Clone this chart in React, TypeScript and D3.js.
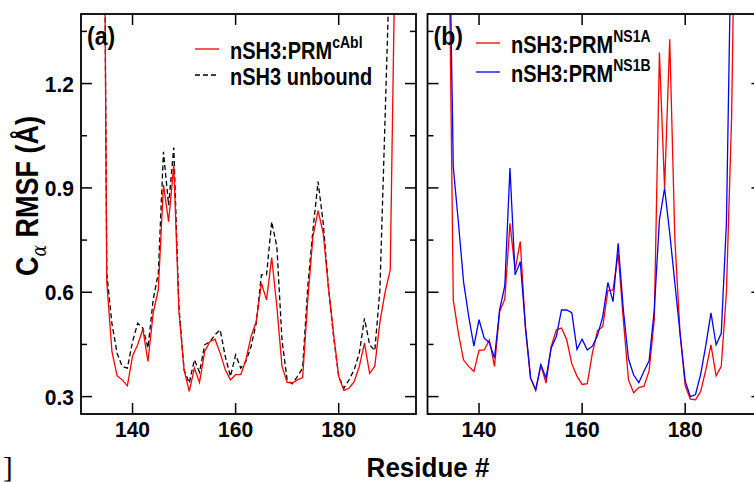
import React from "react";
import * as d3 from "d3";

// ---------- data ----------
const residuesA = [134,135,136,137,138,139,140,141,142,143,144,145,146,147,148,149,150,151,152,153,154,155,156,157,158,159,160,161,162,163,164,165,166,167,168,169,170,171,172,173,174,175,176,177,178,179,180,181,182,183,184,185,186,187,188,189,190,191];
const cAblBound = [3.0,0.63,0.43,0.36,0.348,0.331,0.417,0.449,0.494,0.401,0.54,0.607,0.909,0.803,0.965,0.545,0.377,0.315,0.382,0.341,0.43,0.458,0.465,0.425,0.377,0.348,0.363,0.363,0.406,0.473,0.516,0.626,0.578,0.70,0.559,0.387,0.341,0.339,0.348,0.355,0.578,0.76,0.835,0.77,0.616,0.482,0.358,0.318,0.324,0.343,0.387,0.454,0.367,0.387,0.515,0.6,0.664,1.65];
const unbound = [3.0,0.655,0.51,0.425,0.387,0.382,0.458,0.511,0.497,0.44,0.578,0.655,1.004,0.85,1.016,0.559,0.377,0.339,0.406,0.37,0.449,0.458,0.478,0.492,0.415,0.358,0.42,0.382,0.401,0.444,0.511,0.65,0.65,0.803,0.731,0.463,0.348,0.337,0.358,0.382,0.616,0.779,0.918,0.799,0.616,0.473,0.358,0.324,0.348,0.377,0.425,0.525,0.449,0.432,0.607,1.1,1.6,2.2];

const residuesB = [134,135,136,137,138,139,140,141,142,143,144,145,146,147,148,149,150,151,152,153,154,155,156,157,158,159,160,161,162,163,164,165,166,167,168,169,170,171,172,173,174,175,176,177,178,179,180,181,182,183,184,185,186,187,188,189,190];
const ns1aBound = [1.85,0.578,0.482,0.405,0.387,0.372,0.433,0.434,0.463,0.387,0.545,0.58,0.798,0.664,0.746,0.497,0.353,0.318,0.391,0.339,0.444,0.492,0.497,0.464,0.394,0.359,0.335,0.337,0.426,0.49,0.501,0.605,0.607,0.71,0.521,0.348,0.311,0.326,0.33,0.374,0.521,1.289,0.9,1.327,0.751,0.482,0.332,0.293,0.291,0.315,0.377,0.449,0.36,0.387,0.6,1.1,2.1];
const ns1bBound = [1.9,0.961,0.80,0.63,0.53,0.445,0.521,0.468,0.455,0.411,0.55,0.618,0.957,0.65,0.688,0.502,0.353,0.32,0.392,0.353,0.44,0.473,0.549,0.549,0.541,0.436,0.465,0.434,0.445,0.476,0.53,0.628,0.573,0.741,0.549,0.408,0.362,0.34,0.373,0.403,0.549,0.808,0.899,0.77,0.626,0.482,0.345,0.30,0.306,0.364,0.447,0.541,0.449,0.482,0.8,1.7,2.3];

const xTicks = [140, 160, 180];
const yMajor = [0.3, 0.6, 0.9, 1.2];
const yMinor = [0.45, 0.75, 1.05, 1.35];
const yLabels = ["0.3", "0.6", "0.9", "1.2"];

// ---------- layout ----------
const W = 754, H = 482;
const TOP = 14, BOTTOM = 414, PW = 335;
const LEFT_A = 81, LEFT_B = 427.5;
const FONT = "'Liberation Sans', Arial, Helvetica, sans-serif";

const yScale = d3.scaleLinear().domain([0.25, 1.4]).range([BOTTOM, TOP]);

type Series = { x: number[]; y: number[]; color: string; dash?: string };

function Panel({ left, id, series, showYLabels, tag }: { left: number; id: string; series: Series[]; showYLabels: boolean; tag: string }) {
  const x = d3.scaleLinear().domain([130, 195]).range([left, left + PW]);
  const right = left + PW;
  const majorLen = 11, minorLen = 6;
  return (
    <g>
      <defs>
        <clipPath id={id}>
          <rect x={left} y={TOP} width={PW} height={BOTTOM - TOP} />
        </clipPath>
      </defs>
      <g clipPath={`url(#${id})`}>
        {series.map((s, i) => {
          const line = d3.line<number>().x((_, j) => x(s.x[j])).y((d) => yScale(d));
          return (
            <path key={i} d={line(s.y) || ""} fill="none" stroke={s.color} strokeWidth={1.3} strokeDasharray={s.dash} strokeLinejoin="miter" />
          );
        })}
      </g>
      {xTicks.map((t) => (
        <g key={"xt" + t}>
          <line x1={x(t)} x2={x(t)} y1={BOTTOM} y2={BOTTOM - majorLen} stroke="#000" strokeWidth={1.5} />
          <line x1={x(t)} x2={x(t)} y1={TOP} y2={TOP + majorLen} stroke="#000" strokeWidth={1.5} />
          <text transform={`translate(${x(t)},437) scale(1,1.05)`} textAnchor="middle" fontFamily={FONT} fontWeight="bold" fontSize={21}>{t}</text>
        </g>
      ))}
      {yMajor.map((v, i) => (
        <g key={"ym" + v}>
          <line x1={left} x2={left + majorLen} y1={yScale(v)} y2={yScale(v)} stroke="#000" strokeWidth={1.5} />
          <line x1={right} x2={right - majorLen} y1={yScale(v)} y2={yScale(v)} stroke="#000" strokeWidth={1.5} />
          {showYLabels && (
            <text transform={`translate(${left - 7},${yScale(v) + 8}) scale(1,1.05)`} textAnchor="end" fontFamily={FONT} fontWeight="bold" fontSize={21}>{yLabels[i]}</text>
          )}
        </g>
      ))}
      {yMinor.map((v) => (
        <g key={"yn" + v}>
          <line x1={left} x2={left + minorLen} y1={yScale(v)} y2={yScale(v)} stroke="#000" strokeWidth={1.5} />
          <line x1={right} x2={right - minorLen} y1={yScale(v)} y2={yScale(v)} stroke="#000" strokeWidth={1.5} />
        </g>
      ))}
      <rect x={left} y={TOP} width={PW} height={BOTTOM - TOP} fill="none" stroke="#000" strokeWidth={1.8} />
      <text transform={`translate(${left + 6},45) scale(1,1.1)`} fontFamily={FONT} fontWeight="bold" fontSize={23}>{tag}</text>
    </g>
  );
}

function LegendEntry({ x, y, color, dash, label, sup }: { x: number; y: number; color: string; dash?: string; label: string; sup?: string }) {
  return (
    <g>
      <line x1={x} x2={x + 24} y1={y} y2={y} stroke={color} strokeWidth={1.3} strokeDasharray={dash} />
      <text transform={`translate(${x + 35},${y + 10}) scale(1,1.15)`} fontFamily={FONT} fontWeight="bold" fontSize={20}>
        {label}
        {sup && <tspan dy={-10} fontSize={14}>{sup}</tspan>}
      </text>
    </g>
  );
}

export default function App() {
  const seriesA: Series[] = [
    { x: residuesA, y: unbound, color: "#000", dash: "5,3" },
    { x: residuesA, y: cAblBound, color: "#ff0000" },
  ];
  const seriesB: Series[] = [
    { x: residuesB, y: ns1aBound, color: "#ff0000" },
    { x: residuesB, y: ns1bBound, color: "#0000ff" },
  ];
  return (
    <svg width={W} height={H} viewBox={`0 0 ${W} ${H}`} style={{ position: "absolute", left: 0, top: 0, background: "#fff" }}>
      <rect x={0} y={0} width={W} height={H} fill="#fff" />
      <Panel left={LEFT_A} id="clipA" series={seriesA} showYLabels={true} tag="(a)" />
      <Panel left={LEFT_B} id="clipB" series={seriesB} showYLabels={false} tag="(b)" />

      <LegendEntry x={195} y={49} color="#ff0000" label="nSH3:PRM" sup="cAbl" />
      <LegendEntry x={195} y={75} color="#000" dash="5,3" label="nSH3 unbound" />
      <LegendEntry x={476} y={43} color="#ff0000" label="nSH3:PRM" sup="NS1A" />
      <LegendEntry x={476} y={72} color="#0000ff" label="nSH3:PRM" sup="NS1B" />

      <text transform="translate(38,196) rotate(-90) scale(1,1.15)" textAnchor="middle" fontFamily={FONT} fontWeight="bold" fontSize={27}>
        <tspan>C</tspan>
        <tspan dy={7} fontSize={17} fontWeight="normal" fontFamily="'DejaVu Serif', serif" fontStyle="italic">α</tspan>
        <tspan dy={-7}>{"\u00a0RMSF (Å)"}</tspan>
      </text>

      <text transform="translate(428,477) scale(1,1.08)" textAnchor="middle" fontFamily={FONT} fontWeight="bold" fontSize={26}>Residue #</text>
      <text x={3} y={477} fontFamily="'Liberation Serif', serif" fontSize={29}>]</text>
    </svg>
  );
}
